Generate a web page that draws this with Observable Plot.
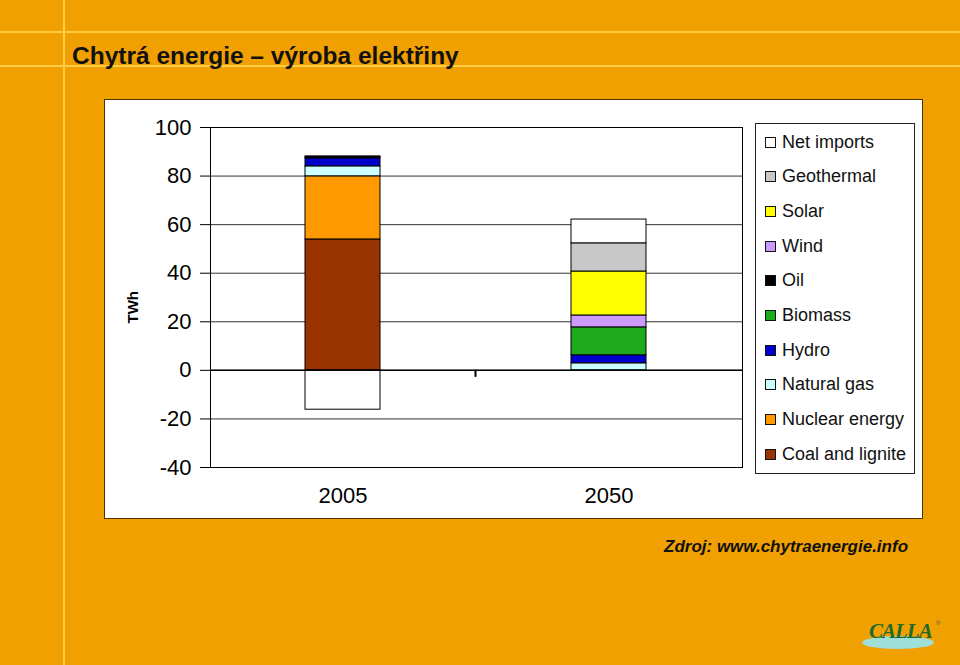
<!DOCTYPE html>
<html>
<head>
<meta charset="utf-8">
<script src="https://cdn.jsdelivr.net/npm/d3@7"></script>
<script src="https://cdn.jsdelivr.net/npm/@observablehq/plot@0.6"></script>
<style>
  html, body { margin: 0; padding: 0; }
  body { width: 960px; height: 665px; background: #F0A000; position: relative; overflow: hidden;
         font-family: "Liberation Sans", Arial, sans-serif; }
  .hline { position: absolute; left: 0; width: 960px; height: 2px; background: #FFCC44; }
  .vline { position: absolute; top: 0; width: 2px; height: 665px; background: #FFCC44; }
  #title { position: absolute; left: 72px; top: 42px; font-size: 24.5px; font-weight: bold; color: #111; white-space: nowrap; }
  #panel { position: absolute; left: 104px; top: 99px; width: 817px; height: 418px; background: #fff; border: 1.5px solid #4a3400; }
  #chart { position: absolute; left: 105px; top: 100px; }
  #legend { position: absolute; left: 755px; top: 123px; width: 158px; height: 349px; border: 1px solid #222; background: #fff; }
  .item { position: absolute; left: 9px; height: 22px; display: flex; align-items: center; font-size: 18px; color: #111; white-space: nowrap; }
  .sw { width: 9px; height: 9px; border: 1px solid #111; margin-right: 6px; }
  #source { position: absolute; left: 664px; top: 537px; font-size: 17px; font-weight: bold; font-style: italic; color: #111; white-space: nowrap; }
  #logo { position: absolute; left: 860px; top: 612px; width: 90px; height: 45px; }
  #logo .ell { position: absolute; left: 2px; top: 24px; width: 72px; height: 13px; border-radius: 50%; background: #9EE0D8; }
  #logo .txt { position: absolute; left: 9px; top: 7px; font-family: "Liberation Serif", serif; font-style: italic; font-weight: bold; font-size: 21px; color: #1E6B2A; letter-spacing: -1px; }
  #logo .reg { position: absolute; left: 76px; top: 8px; font-size: 6px; color: #555; }
</style>
</head>
<body>
<div class="hline" style="top:31px"></div>
<div class="hline" style="top:65px"></div>
<div class="vline" style="left:63px"></div>
<div id="title">Chytrá energie – výroba elektřiny</div>
<div id="panel"></div>
<div id="chart"></div>
<div id="legend"></div>
<div id="source">Zdroj: www.chytraenergie.info</div>
<div id="logo"><div class="ell"></div><div class="txt">CALLA</div><div class="reg">®</div></div>
<script>
// ---- data ----
const categories = ["2005", "2050"];
const sources = ["Coal and lignite", "Nuclear energy", "Natural gas", "Hydro", "Biomass", "Oil", "Wind", "Solar", "Geothermal", "Net imports"];
const colors = ["#993300", "#FF9900", "#CCFFFF", "#0000CC", "#1DAA1D", "#000000", "#CC99FF", "#FFFF00", "#C8C8C8", "#FFFFFF"];
const values2005 = [53.9, 26.0, 4.1, 3.3, 0.3, 0.5, 0, 0, 0, -16.2];
const values2050 = [0, 0, 2.9, 3.3, 11.5, 0, 4.9, 18.1, 11.6, 9.8];
const yTicks = [-40, -20, 0, 20, 40, 60, 80, 100];
const yLabel = "TWh";

const rows = [];
sources.forEach((s, i) => {
  rows.push({year: categories[0], source: s, value: values2005[i]});
  rows.push({year: categories[1], source: s, value: values2050[i]});
});
const data = rows.filter(d => d.value !== 0);

const font = "'Liberation Sans', Arial, sans-serif";

const boundaryTick = (index, scales, values, dimensions) => {
  const x = scales.x, y = scales.y;
  const bw = typeof x.bandwidth === "function" ? x.bandwidth() : x.bandwidth;
  const xs = categories.map(c => x(c) + bw / 2);
  const g = d3.create("svg:g");
  for (let i = 0; i < xs.length - 1; i++) {
    const xb = (xs[i] + xs[i + 1]) / 2;
    g.append("line").attr("x1", xb).attr("x2", xb).attr("y1", y(0)).attr("y2", y(0) + 7)
      .attr("stroke", "#000").attr("stroke-width", 2);
  }
  return g.node();
};

const chart = Plot.plot({
  width: 817,
  height: 418,
  marginLeft: 105,
  marginRight: 180,
  marginTop: 27,
  marginBottom: 51,
  style: {fontFamily: font, fontSize: "22px", background: "transparent", color: "#000", overflow: "visible"},
  x: {domain: categories, paddingInner: 0.718, paddingOuter: 0.359, label: null},
  y: {domain: [-40, 100], label: null},
  color: {domain: sources, range: colors},
  marks: [
    Plot.gridY({ticks: yTicks, stroke: "#333", strokeOpacity: 1, strokeWidth: 1}),
    Plot.barY(data, {x: "year", y: "value", fill: "source", stroke: "#000", strokeWidth: 1}),
    Plot.ruleY([0], {stroke: "#000", strokeWidth: 1.5}),
    Plot.frame({stroke: "#000", strokeWidth: 1}),
    Plot.axisY({ticks: yTicks, tickSize: 10, tickPadding: 9, tickFormat: d => String(d), fontSize: 22, label: null, stroke: "#000", strokeOpacity: 1}),
    Plot.axisX({tickSize: 0, tickPadding: 20, fontSize: 22, label: null}),
    Plot.text([yLabel], {frameAnchor: "left", dx: -77, dy: 26, rotate: -90, fontWeight: "bold", fontSize: 15, text: d => d, fill: "#000"}),
    boundaryTick
  ]
});
document.getElementById("chart").appendChild(chart);

// legend (reverse order, as in the reference)
const legend = document.getElementById("legend");
sources.slice().reverse().forEach((s, i) => {
  const idx = sources.indexOf(s);
  const item = document.createElement("div");
  item.className = "item";
  item.style.top = (7 + i * 34.7) + "px";
  const sw = document.createElement("div");
  sw.className = "sw";
  sw.style.background = colors[idx];
  item.appendChild(sw);
  item.appendChild(document.createTextNode(s));
  legend.appendChild(item);
});
</script>
</body>
</html>
